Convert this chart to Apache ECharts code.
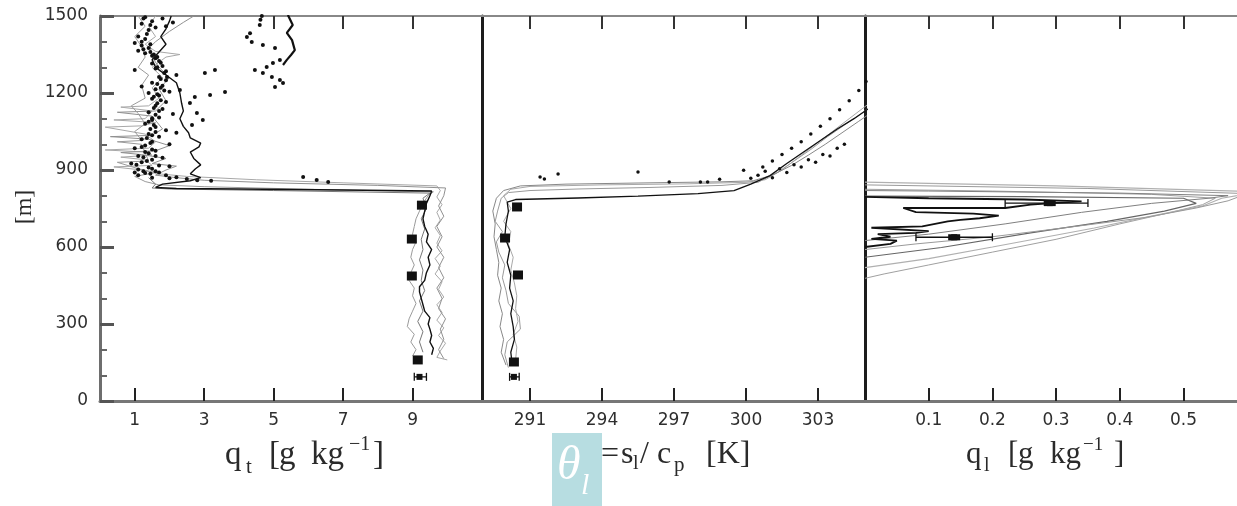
<!DOCTYPE html>
<html><head><meta charset="utf-8">
<script src="https://cdn.jsdelivr.net/npm/echarts@6/dist/echarts.min.js"></script>
<style>html,body{margin:0;padding:0;background:#fff}#c{width:1237px;height:506px}</style>
</head><body><div id="c"></div>
<script>
// ---------------- DATA ----------------
const heightTicks = [0, 300, 600, 900, 1200, 1500];
const qtTicks = [1, 3, 5, 7, 9];
const thTicks = [291, 294, 297, 300, 303];
const qlTicks = [0.1, 0.2, 0.3, 0.4, 0.5];

// Panel 1: total water q_t [g/kg] vs height [m]
const qtBlack = [[9.55,180],[9.6,205],[9.5,230],[9.55,255],[9.5,280],[9.45,300],[9.5,325],[9.35,350],[9.3,375],[9.25,400],[9.2,425],[9.2,445],[9.35,470],[9.4,500],[9.5,530],[9.45,560],[9.55,590],[9.4,620],[9.45,650],[9.35,680],[9.3,710],[9.35,740],[9.4,770],[9.5,800],[9.55,818],[7,822],[4,826],[2.2,828],[1.6,832],[1.8,845],[2.6,858],[2.9,870],[2.6,885],[2.75,905],[2.9,920],[2.7,945],[2.6,970],[2.85,990],[2.9,1005],[2.6,1025],[2.55,1045],[2.4,1070],[2.3,1100],[2.4,1130],[2.35,1160],[2.3,1200],[2.2,1240],[1.9,1270],[1.6,1300],[1.5,1330],[1.7,1360],[1.9,1390],[1.75,1420],[1.9,1450],[2.0,1480],[2.05,1500]];
const qtGrayA = [[10.0,160],[9.7,170],[9.8,195],[9.95,225],[9.75,255],[9.9,285],[9.7,315],[9.85,345],[9.7,375],[9.9,405],[9.75,435],[9.85,465],[9.65,495],[9.8,525],[9.65,555],[9.85,585],[9.7,615],[9.8,645],[9.65,675],[9.8,705],[9.7,735],[9.85,765],[9.7,795],[9.8,820],[9.7,838],[7,850],[4.5,862],[2.5,875],[1.7,885],[1.2,900],[0.4,912],[1.5,918],[1.3,940],[0.6,950],[1.5,958],[1.3,970],[0.15,978],[1.4,985],[1.6,1010],[1.3,1040],[0.15,1067],[1.2,1072],[1.6,1085],[0.4,1095],[1.3,1100],[1.5,1130],[0.6,1145],[1.4,1150],[1.7,1180],[1.5,1220],[1.8,1260],[1.5,1300],[1.9,1340],[2.3,1350],[1.6,1362],[1.3,1390],[1.6,1420],[1.4,1460],[1.6,1500]];
const qtGrayB = [[9.9,165],[9.75,200],[9.9,240],[9.8,280],[9.95,320],[9.75,360],[9.85,400],[9.7,440],[9.9,480],[9.75,520],[9.9,560],[9.7,600],[9.85,640],[9.7,680],[9.9,720],[9.75,760],[9.9,800],[9.95,830],[8,840],[5,850],[3,860],[2.2,870],[1.6,880],[1.9,900],[2.2,915],[1.5,925],[1.9,945],[1.2,960],[0.6,968],[1.6,975],[2.0,995],[1.4,1020],[0.3,1030],[1.5,1035],[1.8,1060],[1.5,1110],[0.5,1125],[1.6,1130],[1.9,1170],[1.7,1215],[2.0,1260],[1.7,1300],[1.5,1340],[1.45,1380],[1.6,1400],[2.0,1440],[2.4,1475],[2.7,1500]];
const qtGrayC = [[9.0,175],[9.1,200],[8.95,230],[9.05,260],[8.85,290],[8.9,320],[9.0,350],[9.1,380],[9.0,410],[9.05,440],[8.9,470],[8.95,500],[9.05,530],[8.95,560],[9.0,590],[9.1,620],[9.0,650],[9.05,680],[9.1,710],[9.2,740],[9.3,770],[9.45,800],[9.6,815],[6,825],[3,835],[1.7,842],[1.3,855],[1.0,875],[1.6,890],[1.1,905],[0.5,930],[1.4,935],[1.2,1000],[0.5,1010],[1.2,1015],[1.0,1050],[1.3,1080],[1.1,1120],[0.9,1150],[1.3,1180],[1.2,1230],[1.4,1270],[1.1,1300],[1.3,1340],[1.2,1380],[1.0,1420],[1.3,1460],[1.1,1500]];
const qtGrayD = [[9.3,190],[9.2,230],[9.3,270],[9.15,310],[9.3,350],[9.2,390],[9.35,430],[9.25,470],[9.3,510],[9.2,550],[9.3,590],[9.25,630],[9.35,670],[9.25,710],[9.4,750],[9.3,790],[9.5,810],[5,820],[2,826],[1.5,830],[1.6,845],[1.4,870]];
const qtUpperBlack = [[5.41,1504],[5.55,1465],[5.38,1434],[5.53,1406],[5.61,1367],[5.5,1348],[5.38,1329],[5.27,1309]];
const qtObs = [[1.3,1495],[1.5,1480],[1.2,1470],[1.6,1455],[1.4,1445],[1.8,1490],[2.1,1475],[1.9,1460],[1.1,1420],[1.3,1410],[1.0,1395],[1.2,1385],[1.4,1375],[1.1,1365],[1.3,1355],[1.5,1345],[1.6,1335],[1.7,1325],[1.5,1315],[1.8,1305],[1.6,1295],[1.9,1285],[1.0,1290],[2.2,1270],[1.7,1262],[1.9,1250],[1.5,1240],[1.8,1228],[1.6,1215],[2.0,1205],[1.2,1225],[1.4,1200],[1.7,1190],[1.5,1178],[1.9,1165],[1.6,1150],[1.8,1138],[1.4,1125],[2.1,1118],[1.7,1105],[1.5,1095],[1.3,1080],[1.6,1068],[1.9,1055],[1.4,1040],[1.7,1030],[1.2,1020],[1.5,1010],[2.2,1045],[2.0,1000],[1.3,995],[1.0,985],[1.6,975],[1.4,965],[1.1,955],[1.8,948],[1.5,940],[1.2,930],[0.9,925],[1.7,918],[1.4,910],[1.1,902],[2.0,915],[1.6,895],[1.3,888],[1.9,880],[2.2,872],[2.5,865],[1.0,890],[2.8,860],[3.2,858],[1.93,1262],[2.3,1212],[2.59,1161],[2.79,1122],[2.96,1095],[3.02,1278],[3.31,1290],[3.6,1204],[3.17,1192],[2.73,1184],[2.65,1075],[4.23,1418],[4.37,1399],[4.69,1387],[5.04,1375],[4.46,1290],[4.69,1278],[4.95,1262],[5.18,1251],[5.04,1223],[5.27,1239],[4.8,1301],[4.98,1317],[5.18,1329],[4.32,1433],[4.6,1465],[4.66,1500],[4.62,1485],[5.85,873],[6.24,861],[6.57,853],
  [1.25,1490],[1.45,1465],[1.35,1430],[1.2,1400],[1.45,1390],[1.25,1370],[1.45,1360],[1.55,1350],[1.65,1340],[1.75,1318],[1.65,1300],[1.85,1278],[1.75,1255],[1.65,1235],[1.75,1220],[1.85,1210],[1.65,1195],[1.55,1185],[1.75,1172],[1.65,1160],[1.55,1142],[1.7,1130],[1.6,1115],[1.5,1102],[1.4,1088],[1.55,1075],[1.45,1060],[1.6,1048],[1.5,1035],[1.35,1025],[1.45,1005],[1.2,990],[1.5,980],[1.3,970],[1.25,950],[1.6,955],[1.35,935],[1.05,920],[1.5,905],[1.25,895],[1.45,885],[1.7,890],[1.1,880],[1.5,870],[2.0,868]];
const qtSquares = [[9.27,763],[8.98,631],[8.98,487],[9.15,160]];
const qtErr = [[9.2,94,9.05,9.4]];

// Panel 2: liquid water potential temperature theta_l [K]
const thBlack = [[290.25,150],[290.2,190],[290.35,240],[290.3,290],[290.2,340],[290.3,390],[290.15,440],[290.2,490],[290.05,540],[290.15,590],[289.95,640],[290.0,690],[290.1,740],[290.05,775],[290.4,785],[291.3,787],[293,791],[295.5,798],[298,808],[299.5,820],[300.2,845],[301,878],[301.7,925],[302.4,970],[303.1,1015],[303.8,1060],[304.5,1100],[305.2,1145],[305.6,1170]];
const thGrayA = [[290.1,130],[289.95,180],[290.05,230],[290.6,280],[290.55,330],[290.1,380],[290.0,430],[289.85,480],[289.95,530],[289.7,580],[289.6,620],[289.85,660],[289.55,700],[289.65,740],[289.8,790],[290.1,812],[291,820],[293,826],[296,832],[299,840],[300.5,852],[301.3,890],[302,935],[302.7,980],[303.4,1030],[304.1,1075],[304.8,1120],[305.4,1160]];
const thGrayB = [[290.4,160],[290.45,210],[290.3,260],[290.5,310],[290.4,360],[290.45,410],[290.35,460],[290.2,510],[290.3,560],[290.1,610],[290.2,660],[289.9,700],[290.2,750],[289.9,800],[290.2,825],[291,836],[294,842],[297.5,846],[300,852],[300.8,862],[301.5,900],[302.2,950],[302.9,1000],[303.6,1050],[304.3,1100],[305,1150],[305.5,1185]];
const thGrayC = [[290.0,140],[289.8,190],[289.9,240],[289.75,290],[289.85,340],[289.7,390],[289.8,440],[289.65,490],[289.7,540],[289.6,590],[289.5,640],[289.55,690],[289.45,740],[289.6,790],[289.9,820],[290.6,838],[292.5,845],[296,850],[299,854],[300.3,858],[301.1,880],[301.9,918],[302.6,958],[303.3,1000],[304.0,1045],[304.7,1090],[305.4,1135]];
const thObs = [[291.42,873],[291.6,865],[292.17,884],[295.5,892],[296.8,853],[298.1,853],[298.4,853],[298.9,864],[299.9,899],[300.2,868],[300.5,880],[300.8,895],[301.1,870],[301.4,905],[301.7,890],[302.0,920],[302.3,912],[302.6,940],[302.9,930],[303.2,960],[303.5,955],[303.8,985],[304.1,1000],[300.7,912],[301.1,935],[301.5,960],[301.9,985],[302.3,1010],[302.7,1040],[303.1,1070],[303.5,1100],[303.9,1135],[304.3,1170],[304.7,1210],[305.0,1245]];
const thSquares = [[290.46,756],[289.96,635],[290.5,491],[290.33,152]];
const thErr = [[290.33,94,290.15,290.55]];

// Panel 3: liquid water q_l [g/kg]
const qlGrayA = [[0,478],[0.03,495],[0.1,530],[0.2,580],[0.3,630],[0.4,690],[0.48,735],[0.53,765],[0.55,790],[0.45,805],[0.2,818],[0,825]];
const qlGrayB = [[0,520],[0.1,555],[0.2,600],[0.36,674],[0.45,720],[0.53,760],[0.56,790],[0.62,815],[0.3,838],[0,853]];
const qlGrayC = [[0,560],[0.12,598],[0.26,655],[0.38,700],[0.47,740],[0.52,770],[0.5,790],[0.25,796],[0,798]];
const qlGrayD = [[0,590],[0.08,612],[0.2,640],[0.33,680],[0.44,715],[0.52,752],[0.57,780],[0.6,808],[0.35,828],[0,842]];
const qlGrayE = [[0,625],[0.1,650],[0.22,690],[0.34,735],[0.45,770],[0.54,790],[0.57,800],[0.4,810],[0.1,818],[0,820]];
const qlBlack = [[0,600],[0.04,612],[0.05,625],[0.01,632],[0.04,640],[0.02,650],[0.08,655],[0.1,662],[0.01,675],[0.09,680],[0.13,700],[0.15,706],[0.18,712],[0.21,722],[0.17,730],[0.08,736],[0.06,752],[0.22,752],[0.26,765],[0.3,772],[0.34,778],[0.25,785],[0.1,790],[0,795]];
const qlSquares = [[0.29,771],[0.14,638]];
const qlErr = [[0.29,771,0.22,0.35],[0.14,638,0.08,0.2]];

// ---------------- CHART ----------------
const chart = echarts.init(document.getElementById('c'), null, {renderer: 'canvas'});
const tickFont = {fontFamily: '"DejaVu Sans", sans-serif', fontSize: 17, color: '#2e2e2e'};
const serif = '"Liberation Serif", "DejaVu Serif", serif';
const plain = v => String(v);

function bottomAxis(gi, min, max, ticks) {
  return {type: 'value', gridIndex: gi, position: 'bottom', min, max,
    axisLine: {show: true, onZero: false, lineStyle: {color: '#777', width: 3}},
    axisTick: {show: true, inside: true, length: 13, customValues: ticks, lineStyle: {color: '#222', width: 2}},
    axisLabel: Object.assign({show: true, margin: 11, customValues: ticks, formatter: plain}, tickFont),
    splitLine: {show: false}};
}
function topAxis(gi, min, max, ticks) {
  return {type: 'value', gridIndex: gi, position: 'top', min, max,
    axisLine: {show: true, onZero: false, lineStyle: {color: '#888', width: 2}},
    axisTick: {show: true, inside: true, length: 13, customValues: ticks, lineStyle: {color: '#333', width: 2}},
    axisLabel: {show: false}, splitLine: {show: false}};
}
function sepAxis(gi) {
  return {type: 'value', gridIndex: gi, min: 0, max: 1500,
    axisLine: {show: true, onZero: false, lineStyle: {color: '#1c1c1c', width: 3}},
    axisTick: {show: false}, axisLabel: {show: false}, splitLine: {show: false}};
}
function line(data, xi, color, width, z) {
  return {type: 'line', data, xAxisIndex: xi, yAxisIndex: Math.floor(xi / 2), showSymbol: false, symbol: 'none',
    clip: true, animation: false, z: z || 2, lineStyle: {color, width}};
}
function dots(data, xi, size) {
  return {type: 'scatter', data, xAxisIndex: xi, yAxisIndex: Math.floor(xi / 2), symbol: 'circle', symbolSize: size || 3.5,
    itemStyle: {color: '#111', opacity: 1}, clip: true, animation: false, z: 5};
}
function squares(data, xi, size) {
  return {type: 'scatter', data, xAxisIndex: xi, yAxisIndex: Math.floor(xi / 2), symbol: 'rect', symbolSize: size,
    itemStyle: {color: '#111', opacity: 1}, clip: true, animation: false, z: 6};
}
function errbars(data, xi) {
  return {type: 'custom', data, xAxisIndex: xi, yAxisIndex: Math.floor(xi / 2), clip: true, animation: false, z: 6,
    encode: {x: 0, y: 1},
    renderItem: function (params, api) {
      const c = api.coord([api.value(0), api.value(1)]);
      const lo = api.coord([api.value(2), api.value(1)]);
      const hi = api.coord([api.value(3), api.value(1)]);
      const s = {stroke: '#111', lineWidth: 1.3};
      return {type: 'group', children: [
        {type: 'line', shape: {x1: lo[0], y1: c[1], x2: hi[0], y2: c[1]}, style: s},
        {type: 'line', shape: {x1: lo[0], y1: c[1] - 4, x2: lo[0], y2: c[1] + 4}, style: s},
        {type: 'line', shape: {x1: hi[0], y1: c[1] - 4, x2: hi[0], y2: c[1] + 4}, style: s},
        {type: 'rect', shape: {x: c[0] - 3, y: c[1] - 3, width: 6, height: 6}, style: {fill: '#111'}}
      ]};
    }};
}
function T(text, x, y, size, opt) {
  opt = opt || {};
  return {type: 'text', x, y, rotation: opt.rot || 0, z: 100,
    style: {text, font: (opt.italic ? 'italic ' : '') + size + 'px ' + (opt.family || serif), fill: opt.fill || '#2a2a2a',
      align: opt.align || 'left', verticalAlign: 'middle', textAlign: opt.align || 'left', textVerticalAlign: 'middle'}};
}

const option = {
  backgroundColor: '#fff',
  animation: false,
  grid: [
    {left: 100, top: 16, width: 382, height: 385},
    {left: 482, top: 16, width: 384, height: 385},
    {left: 865, top: 16, width: 372, height: 385}
  ],
  xAxis: [
    bottomAxis(0, 0, 11, qtTicks), topAxis(0, 0, 11, qtTicks),
    bottomAxis(1, 289, 305, thTicks), topAxis(1, 289, 305, thTicks),
    bottomAxis(2, 0, 0.584, qlTicks), topAxis(2, 0, 0.584, qlTicks)
  ],
  yAxis: [
    {type: 'value', gridIndex: 0, min: 0, max: 1500, interval: 300,
      axisLine: {show: true, onZero: false, lineStyle: {color: '#6e6e6e', width: 3}},
      axisTick: {show: true, inside: true, length: 14, lineStyle: {color: '#555', width: 3}},
      minorTick: {show: true, splitNumber: 3, length: 7, lineStyle: {color: '#666', width: 2}},
      axisLabel: Object.assign({margin: 12, customValues: heightTicks, formatter: plain}, tickFont),
      splitLine: {show: false}, minorSplitLine: {show: false}},
    sepAxis(1), sepAxis(2)
  ],
  series: [
    line(qtGrayA, 0, '#a8a8a8', 1), line(qtGrayB, 0, '#909090', 1), line(qtGrayC, 0, '#9a9a9a', 1),
    line(qtGrayD, 0, '#777', 1), line(qtBlack, 0, '#111', 1.4, 3), line(qtUpperBlack, 0, '#111', 2.2, 3),
    dots(qtObs, 0, 4), squares(qtSquares, 0, [10, 9]), errbars(qtErr, 0),

    line(thGrayA, 2, '#9a9a9a', 1), line(thGrayB, 2, '#a8a8a8', 1), line(thGrayC, 2, '#888', 1),
    line(thBlack, 2, '#111', 1.3, 3), dots(thObs, 2, 3.5), squares(thSquares, 2, [10, 9]), errbars(thErr, 2),

    line(qlGrayA, 4, '#a0a0a0', 1), line(qlGrayB, 4, '#b0b0b0', 1.2), line(qlGrayC, 4, '#666', 1.2),
    line(qlGrayD, 4, '#999', 1), line(qlGrayE, 4, '#808080', 1), line(qlBlack, 4, '#111', 1.8, 3),
    squares(qlSquares, 4, [12, 6]), errbars(qlErr, 4)
  ],
  graphic: [
    T('[m]', 25, 207, 24, {rot: Math.PI / 2, align: 'center'}),
    // q_t [g kg^-1]
    T('q', 225, 455, 33), T('t', 246, 467, 21), T('[', 269, 455, 33), T('g', 279, 455, 33),
    T('kg', 311, 455, 33), T('\u22121', 349, 445, 20), T(']', 373, 455, 33),
    // theta_l = s_l / c_p [K]
    {type: 'rect', shape: {x: 552, y: 433, width: 50, height: 73}, style: {fill: '#b7dde1'}, z: 99},
    T('\u03b8', 557, 466, 48, {italic: true, fill: '#ffffff'}), T('l', 581, 486, 30, {italic: true, fill: '#ffffff'}),
    T('=', 601, 455, 32), T('s', 621, 455, 32), T('l', 633, 464, 20), T('/', 640, 455, 32), T('c', 657, 455, 32),
    T('p', 674, 465, 21), T('[K]', 706, 455, 32),
    // q_l [g kg^-1]
    T('q', 966, 455, 31), T('l', 984, 466, 20), T('[', 1008, 455, 31), T('g', 1018, 455, 31),
    T('kg', 1050, 455, 31), T('\u22121', 1083, 445, 19), T(']', 1114, 455, 31)
  ]
};
chart.setOption(option);
</script>
</body></html>
